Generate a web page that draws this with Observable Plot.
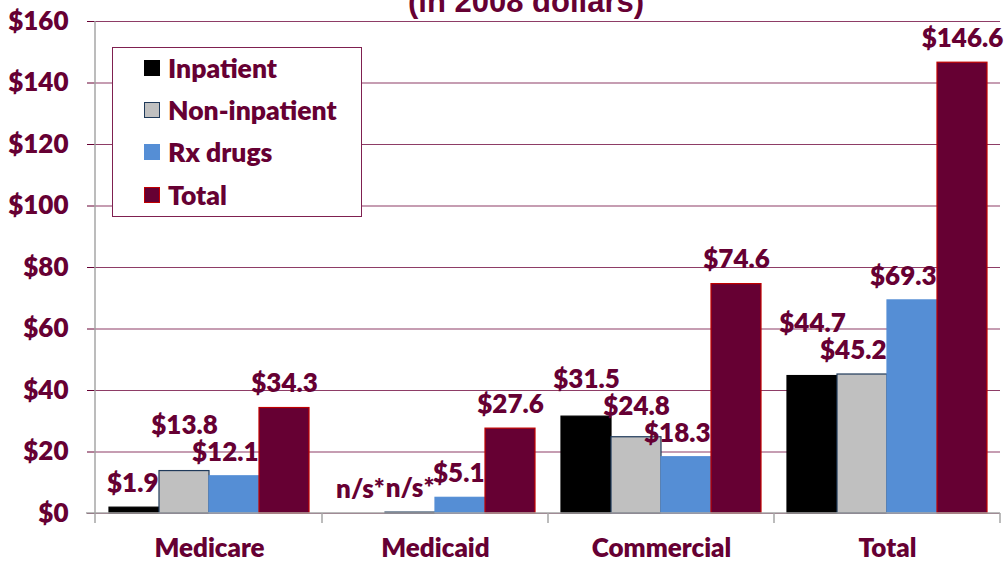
<!DOCTYPE html>
<html>
<head>
<meta charset="utf-8">
<script src="https://cdn.jsdelivr.net/npm/d3@7"></script>
<script src="https://cdn.jsdelivr.net/npm/@observablehq/plot@0.6"></script>
<style>
  html, body { margin: 0; padding: 0; background: white; }
  #wrap { position: relative; width: 1008px; height: 563px; overflow: hidden; }
  #title { position: absolute; left: 0; width: 1052px; top: -14px; text-align: center;
    font-family: "Liberation Sans", Arial, sans-serif; font-weight: bold; font-size: 31px; line-height: 31px; color: #660033; }
  #legend { position: absolute; left: 112px; top: 47px; width: 248px; height: 168px;
    border: 1.5px solid #7F2050; background: white; box-sizing: content-box; }
  .row { position: relative; top: -1.5px; height: 42.3px; display: flex; align-items: center; padding-left: 31px;
    font-family: Lato, sans-serif; font-weight: 800; font-size: 26.5px; color: #660033; }
  .sw { width: 16px; height: 16px; box-sizing: border-box; margin-right: 8px; }
  svg { position: absolute; left: 0; top: 0; }
</style>
</head>
<body>
<div id="wrap">
  <div id="chart"></div>
  <div id="title">(in 2008 dollars)</div>
  <div id="legend"></div>
</div>
<script>
const groups = ["Medicare", "Medicaid", "Commercial", "Total"];
const series = ["Inpatient", "Non-inpatient", "Rx drugs", "Total"];
const inpatient = [1.9, 0, 31.5, 44.7];
const nonInpatient = [13.8, 0.3, 24.8, 45.2];
const rxDrugs = [12.1, 5.1, 18.3, 69.3];
const totalSpend = [34.3, 27.6, 74.6, 146.6];
const notSignificant = [["Medicaid", "Inpatient"], ["Medicaid", "Non-inpatient"]];
const yTicks = [0, 20, 40, 60, 80, 100, 120, 140, 160];

const fills = ["#000000", "#C0C0C0", "#558ED5", "#660033"];
const strokes = ["#000000", "#1F3A5A", "#558ED5", "#C00000"];
const maroon = "#660033";
const labelFont = "800 26px Lato";

const seriesValues = [inpatient, nonInpatient, rxDrugs, totalSpend];
const rows = [];
groups.forEach((g, gi) => {
  series.forEach((s, si) => {
    const v = seriesValues[si][gi];
    const ns = notSignificant.some(([a, b]) => a === g && b === s);
    rows.push({group: g, series: s, value: v, label: ns ? "n/s*" : "$" + d3.format(".1f")(v)});
  });
});

function build(place) {
  return Plot.plot({
    width: 1008,
    height: 563,
    marginLeft: 95,
    marginRight: 8,
    marginTop: 21,
    marginBottom: 50,
    style: {fontFamily: "Lato, sans-serif", fontSize: "26px", fontWeight: "800", color: maroon, background: "transparent", overflow: "visible"},
    fx: {domain: groups, padding: 0, label: null, tickSize: 0, tickPadding: 25},
    x: {domain: series, paddingInner: 0, paddingOuter: 0.25, axis: null},
    y: {domain: [0, 160], ticks: yTicks, tickFormat: d => "$" + d, tickSize: 9, tickPadding: 19, label: null},
    marks: [
      Plot.ruleY(yTicks, {stroke: "#8E3D66", strokeWidth: 1.2}),
      ...series.map((s, i) => Plot.barY(rows.filter(r => r.series === s), {
        fx: "group", x: "series", y: "value", fill: fills[i], stroke: strokes[i], strokeWidth: 1.2
      })),
      ...(place ? rows.map((r, i) => Plot.text([r], {
        fx: "group", x: "series", y: () => place[i].y, dx: place[i].dx, text: "label", fill: maroon
      })) : [])
    ]
  });
}

// first pass: read the plot's scales to place labels clear of bars and of each other
const probe = build(null);
const ys = probe.scale("y");
const xs = probe.scale("x");
const ctx = document.createElement("canvas").getContext("2d");
ctx.font = labelFont;
const place = new Array(rows.length);
groups.forEach(g => {
  const placed = [];
  for (let si = series.length - 1; si >= 0; si--) {
    const idx = rows.findIndex(r => r.group === g && r.series === series[si]);
    const r = rows[idx];
    const center = xs.apply(r.series) + xs.bandwidth / 2;
    const w = ctx.measureText(r.label).width;
    let py = ys.apply(r.value) - 24;
    let cx = center;
    if (si < series.length - 1) {
      const nb = rows.find(q => q.group === g && q.series === series[si + 1]);
      const nbLeft = xs.apply(nb.series);
      if (ys.apply(nb.value) < py + 12 && cx + w / 2 > nbLeft - 1) cx = nbLeft - 1 - w / 2;
    }
    let moved = true;
    while (moved) {
      moved = false;
      for (const p of placed) {
        if (Math.abs(cx - p.cx) < (w + p.w) / 2 - 2 && Math.abs(py - p.py) < 26) {
          py = p.py - 27; moved = true;
        }
      }
    }
    placed.push({cx, w, py});
    place[idx] = {y: ys.invert(py), dx: cx - center};
  }
});

const plot = build(place);
document.getElementById("chart").appendChild(plot);

// axis lines drawn from the plot's own scales
const fxs = plot.scale("fx");
const ys2 = plot.scale("y");
const svg = d3.select(plot);
const y0 = ys2.apply(0), yTop = ys2.apply(160);
const xL = fxs.range[0], xR = fxs.range[1];
const g = svg.append("g").attr("stroke", "#A6A6A6").attr("stroke-width", 1.5);
g.append("line").attr("x1", xL).attr("x2", xL).attr("y1", yTop).attr("y2", y0 + 10);
g.append("line").attr("x1", xL - 9).attr("x2", xR).attr("y1", y0).attr("y2", y0);
groups.forEach(gr => {
  const x = fxs.apply(gr) + fxs.bandwidth;
  g.append("line").attr("x1", x).attr("x2", x).attr("y1", y0).attr("y2", y0 + 10);
});

// legend
const legend = d3.select("#legend");
series.forEach((s, i) => {
  const r = legend.append("div").attr("class", "row");
  r.append("div").attr("class", "sw")
    .style("background", fills[i])
    .style("border", i === 1 ? "1.5px solid " + strokes[i] : i === 3 ? "1px solid " + strokes[i] : "none");
  r.append("span").text(s);
});
</script>
</body>
</html>
